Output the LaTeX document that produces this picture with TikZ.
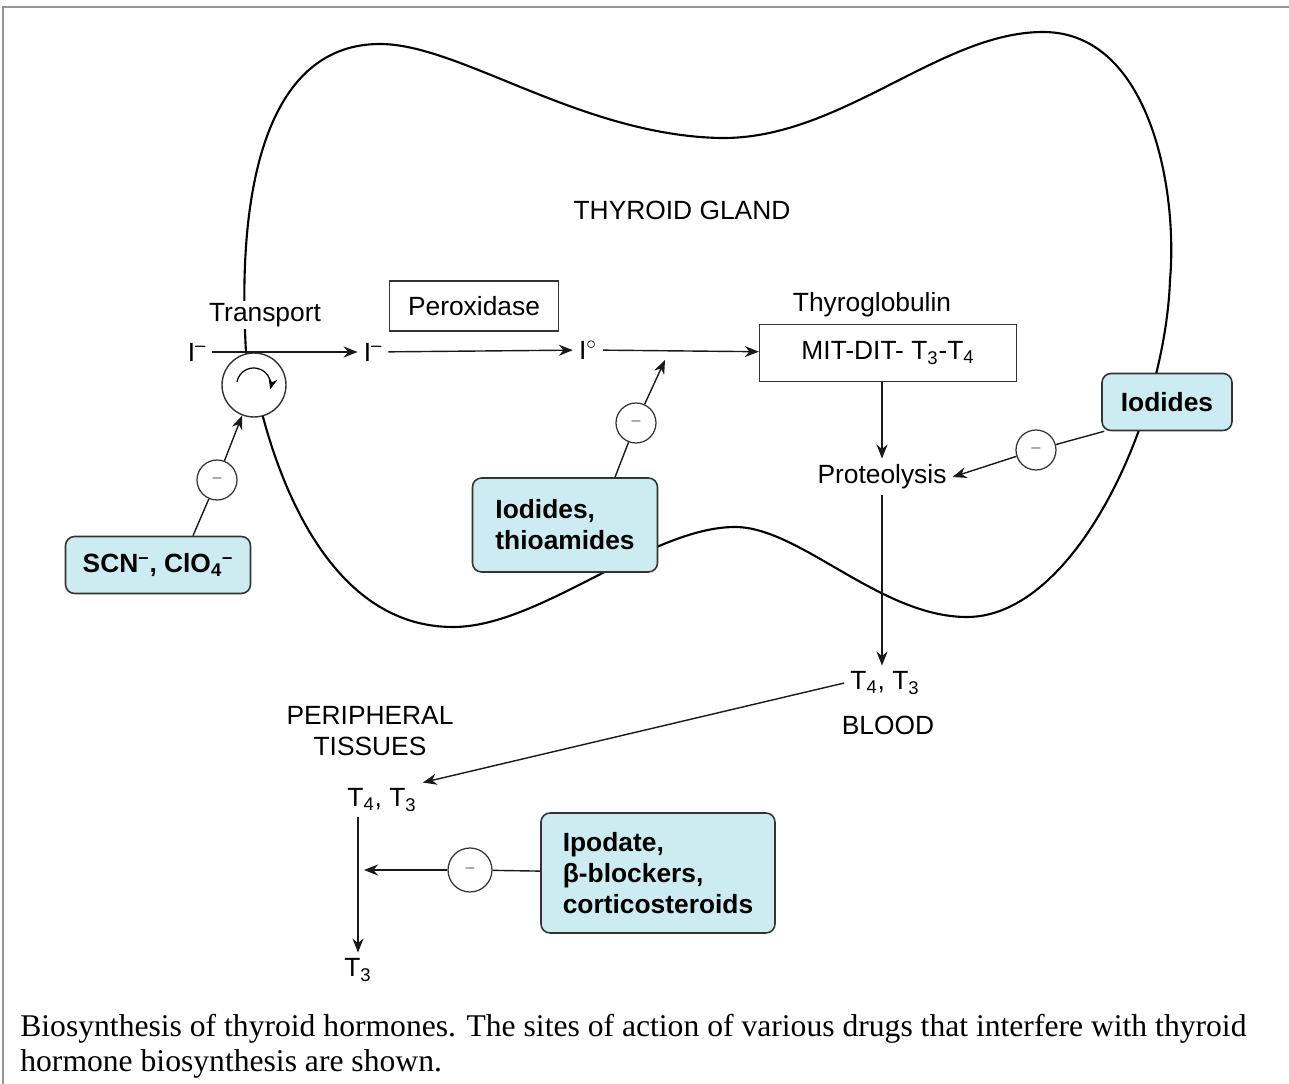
\documentclass[tikz,border=0pt]{standalone}
\usepackage{fontspec}
\setmainfont{Liberation Serif}
\setsansfont{Liberation Sans}
\usepackage{xcolor}
\usepackage{tikz}
\usetikzlibrary{arrows.meta, positioning}
\definecolor{drugblue}{RGB}{204,236,242}
\definecolor{framegray}{RGB}{150,150,150}
\tikzstyle{gland} = [line width=1.2pt, draw=black]
\tikzstyle{enzyme} = [rectangle, draw=black!80, line width=0.8pt, inner sep=0pt]
\tikzstyle{drug} = [rectangle, rounded corners=0.18cm, draw=black!80, line width=0.9pt, fill=drugblue, align=left, font=\sffamily\bfseries\fontsize{15}{17.6}\selectfont]
\tikzstyle{block} = [circle, draw=black!80, line width=0.7pt, fill=white, minimum size=0.8cm, inner sep=0pt, font=\sffamily\fontsize{9}{9}\selectfont, text=black!60]
\tikzstyle{arrow} = [line width=0.8pt, -{Stealth[length=2.8mm, width=2.2mm]}, draw=black!90]
\tikzstyle{link} = [line width=0.8pt, draw=black!90]

\begin{document}
\begin{tikzpicture}[x=0.02cm, y=-0.02cm, every node/.style={font=\sffamily\fontsize{15}{17.6}\selectfont}]

\useasboundingbox (0,0) rectangle (1289,1084);
\draw [framegray, line width=1.2pt] (3,1084) -- (3,7) -- (1289,7);

% gland outline
\draw [gland] (246,352) .. controls (236,180) and (270,44) .. (380,44)
  .. controls (460,44) and (580,135) .. (720,138)
  .. controls (840,140) and (940,32) .. (1043,32)
  .. controls (1150,32) and (1178,190) .. (1170,280)
  .. controls (1165,420) and (1075,617) .. (967,617)
  .. controls (880,617) and (800,527) .. (735,527)
  .. controls (650,527) and (540,627) .. (453,627)
  .. controls (330,627) and (280,480) .. (263,417) -- cycle;

\node (glandLab) at (682,210) {THYROID GLAND};

% iodide chain
\node (transport) [fill=white, inner sep=1pt] at (265,315) {Transport};
\node (pump) [circle, draw=black!80, line width=0.8pt, fill=white, minimum size=1.28cm] at (254,385) {};
\draw [-{Stealth[length=2.2mm, width=1.8mm]}, line width=0.7pt] ([shift={(-17,-3)}]pump.center) arc (190:375:17);
\node (iodA) at (197,352) {I\textsuperscript{--}};
\node (iodB) at (373,352) {I\textsuperscript{--}};
\node (iodC) at (588,350) {I$^\circ$};
\node (perox) [enzyme, minimum width=3.38cm, minimum height=1cm] at (474,306) {Peroxidase};
\node (tglLab) at (872,305) {Thyroglobulin};
\node (tgl) [enzyme, minimum width=5.14cm, minimum height=1.14cm] at (888,353) {MIT-DIT- T\textsubscript{3}-T\textsubscript{4}};
\node (prot) at (882,477) {Proteolysis};
\node (blood) at (885,683) {T\textsubscript{4}, T\textsubscript{3}};
\node (bloodLab) at (888,725) {BLOOD};

% periphery
\node (periLab) [align=center] at (370,731) {PERIPHERAL\\TISSUES};
\node (peri) at (382,800) {T\textsubscript{4}, T\textsubscript{3}};
\node (t3) at (358,970) {T\textsubscript{3}};

% drugs
\node (scn) [drug, minimum width=3.7cm, minimum height=1.14cm] at (158,565) {SCN\textsuperscript{--}, ClO\textsubscript{4}\textsuperscript{--}};
\node (thio) [drug, minimum width=3.7cm, minimum height=1.88cm] at (565,525) {Iodides,\\thioamides};
\node (iodR) [drug, minimum width=2.6cm, minimum height=1.14cm] at (1167,402) {Iodides};
\node (ipo) [drug, minimum width=4.68cm, minimum height=2.4cm] at (658,873) {Ipodate,\\β-blockers,\\corticosteroids};

% inhibition sites
\node (inhA) [block] at (217,480) {--};
\node (inhB) [block] at (636,423) {--};
\node (inhC) [block] at (1036,450) {--};
\node (inhD) [block, minimum width=0.82cm, minimum height=0.88cm] at (470,870) {--};
\coordinate (hitB) at (665,360);
\coordinate (hitD) at (364,870);

\draw [arrow] (iodA) -- (iodB);
\draw [arrow] (iodB) -- (iodC);
\draw [arrow] (iodC) -- (tgl);
\draw [arrow] (tgl.south -| prot) -- (prot);
\draw [arrow] (prot) -- (prot |- blood.north);
\draw [arrow] (blood.west) -- (peri.north east);
\draw [arrow] (peri.south -| t3) -- (t3);

\draw [link] ([xshift=0.7cm]scn.north) -- (inhA);
\draw [arrow] (inhA) -- (pump);
\draw [link] ([xshift=1cm]thio.north) -- (inhB);
\draw [arrow] (inhB) -- (hitB);
\draw [link] ([xshift=0.06cm]iodR.south west) -- (inhC);
\draw [arrow] (inhC) -- (prot.east);
\draw [link] (ipo) -- (inhD);
\draw [arrow] (inhD) -- (hitD);

% caption
\node (caption) [anchor=base west, align=left, inner sep=0pt, font=\rmfamily\fontsize{18}{19.9}\selectfont] at (20,1071) {Biosynthesis of thyroid hormones. The sites of action of various drugs that interfere with thyroid\\hormone biosynthesis are shown.};

\end{tikzpicture}
\end{document}
